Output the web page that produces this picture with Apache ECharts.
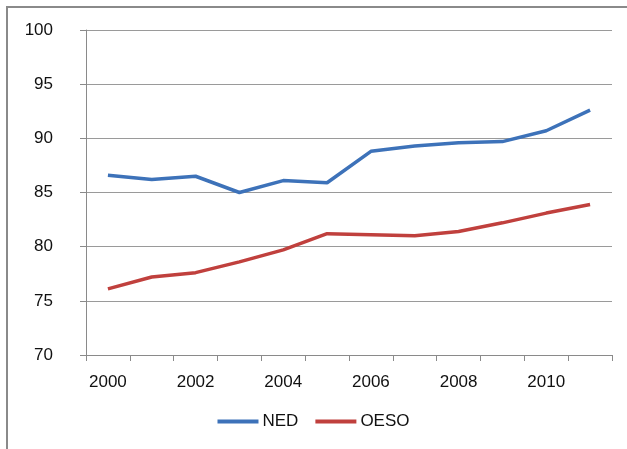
<!DOCTYPE html>
<html><head><meta charset="utf-8">
<script src="https://cdn.jsdelivr.net/npm/echarts@6/dist/echarts.min.js"></script>
<style>html,body{margin:0;padding:0;background:#fff}#c{width:627px;height:449px}</style>
</head><body><div id="c"></div>
<script>
const years = ['2000','2001','2002','2003','2004','2005','2006','2007','2008','2009','2010','2011'];
const ned = [86.6, 86.2, 86.5, 85.0, 86.1, 85.9, 88.8, 89.3, 89.6, 89.7, 90.7, 92.6];
const oeso = [76.1, 77.2, 77.6, 78.6, 79.7, 81.2, 81.1, 81.0, 81.4, 82.2, 83.1, 83.9];
const yTicks = {min: 70, max: 100, interval: 5};
const font = 'Liberation Sans';
const blue = '#3d72b9', red = '#c0403d';
const chart = echarts.init(document.getElementById('c'));
chart.setOption({
  animation: false,
  backgroundColor: '#fff',
  graphic: [{type: 'rect', shape: {x: 7, y: 7, width: 700, height: 500}, style: {fill: 'none', stroke: '#8a8a8a', lineWidth: 2}, silent: true}],
  grid: {left: 86, right: 15, top: 30, bottom: 94},
  legend: {
    data: ['NED', 'OESO'], bottom: 14, left: 'center', icon: 'rect', itemWidth: 41, itemHeight: 4, itemGap: 17,
    textStyle: {fontFamily: font, fontSize: 17, color: '#111', padding: [0,0,0,-1]}
  },
  xAxis: {
    type: 'category', data: years, boundaryGap: true,
    axisLine: {lineStyle: {color: '#8a8a8a', width: 1}},
    axisTick: {show: true, interval: 0, length: 6, lineStyle: {color: '#8a8a8a'}},
    axisLabel: {interval: 1, fontFamily: font, fontSize: 17, color: '#111', margin: 19},
    splitLine: {show: false}
  },
  yAxis: {
    type: 'value', min: yTicks.min, max: yTicks.max, interval: yTicks.interval,
    axisLine: {show: true, lineStyle: {color: '#8a8a8a', width: 1}},
    axisTick: {show: true, length: 6, lineStyle: {color: '#8a8a8a'}},
    axisLabel: {fontFamily: font, fontSize: 17, color: '#111', margin: 33},
    splitLine: {lineStyle: {color: '#9a9a9a', width: 1}}
  },
  series: [
    {name: 'NED', type: 'line', data: ned, symbol: 'none', lineStyle: {color: blue, width: 3.5}, itemStyle: {color: blue}},
    {name: 'OESO', type: 'line', data: oeso, symbol: 'none', lineStyle: {color: red, width: 3.5}, itemStyle: {color: red}}
  ]
});
</script></body></html>
